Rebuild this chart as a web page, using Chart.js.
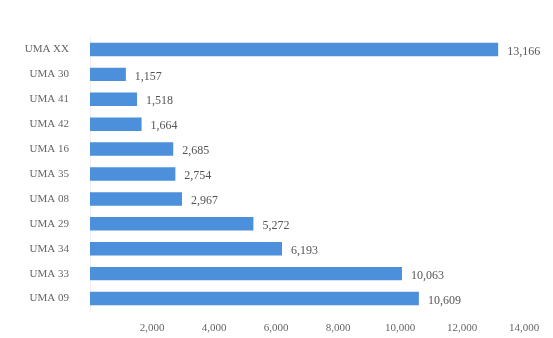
<!DOCTYPE html>
<html>
<head>
<meta charset="utf-8">
<script src="https://cdn.jsdelivr.net/npm/chart.js@4/dist/chart.umd.min.js"></script>
<style>
  html, body { margin: 0; padding: 0; background: #fff; }
  #wrap { width: 553px; height: 338px; }
</style>
</head>
<body>
<div id="wrap"><canvas id="myChart"></canvas></div>
<script>
// units per category
const labels = ['UMA XX', 'UMA 30', 'UMA 41', 'UMA 42', 'UMA 16', 'UMA 35', 'UMA 08', 'UMA 29', 'UMA 34', 'UMA 33', 'UMA 09'];
const values = [13166, 1157, 1518, 1664, 2685, 2754, 2967, 5272, 6193, 10063, 10609];
const xTicks = [0, 2000, 4000, 6000, 8000, 10000, 12000, 14000];

const fmt = v => v.toLocaleString('en-US');
const fontFamily = '"Liberation Serif", "DejaVu Serif", serif';

// writes the value just after the end of each bar
const valueLabels = {
    id: 'valueLabels',
    afterDatasetsDraw(chart) {
        const ctx = chart.ctx;
        const meta = chart.getDatasetMeta(0);
        ctx.save();
        ctx.font = '12px ' + fontFamily;
        ctx.fillStyle = '#555';
        ctx.textBaseline = 'middle';
        ctx.textAlign = 'left';
        meta.data.forEach((bar, i) => {
            ctx.fillText(fmt(values[i]), bar.x + 9, bar.y + 2);
        });
        ctx.restore();
    }
};

const data = {
    labels: labels,
    datasets: [{
        data: values,
        backgroundColor: '#4c8fdb',
        borderWidth: 0,
        barPercentage: 0.54,
        categoryPercentage: 1
    }]
};

const config = {
    type: 'bar',
    data: data,
    options: {
        indexAxis: 'y',
        responsive: true,
        maintainAspectRatio: false,
        animation: false,
        layout: { padding: { top: 37, right: 29, left: 0, bottom: 0 } },
        plugins: {
            legend: { display: false },
            tooltip: { enabled: false }
        },
        scales: {
            x: {
                min: 0,
                max: 14000,
                afterBuildTicks: scale => { scale.ticks = xTicks.map(v => ({ value: v })); },
                afterFit: scale => { scale.height = 27; },
                grid: { display: false },
                border: { display: false },
                ticks: {
                    padding: 3,
                    color: '#666',
                    font: { family: fontFamily, size: 11 },
                    callback: v => v === 0 ? '' : fmt(v)
                }
            },
            y: {
                afterFit: scale => { scale.width = 90; },
                grid: { display: false },
                border: { display: true, color: '#eee' },
                ticks: {
                    padding: 13,
                    color: '#666',
                    font: { family: fontFamily, size: 11 }
                }
            }
        }
    },
    plugins: [valueLabels]
};

const myChart = new Chart(document.getElementById('myChart'), config);
</script>
</body>
</html>
